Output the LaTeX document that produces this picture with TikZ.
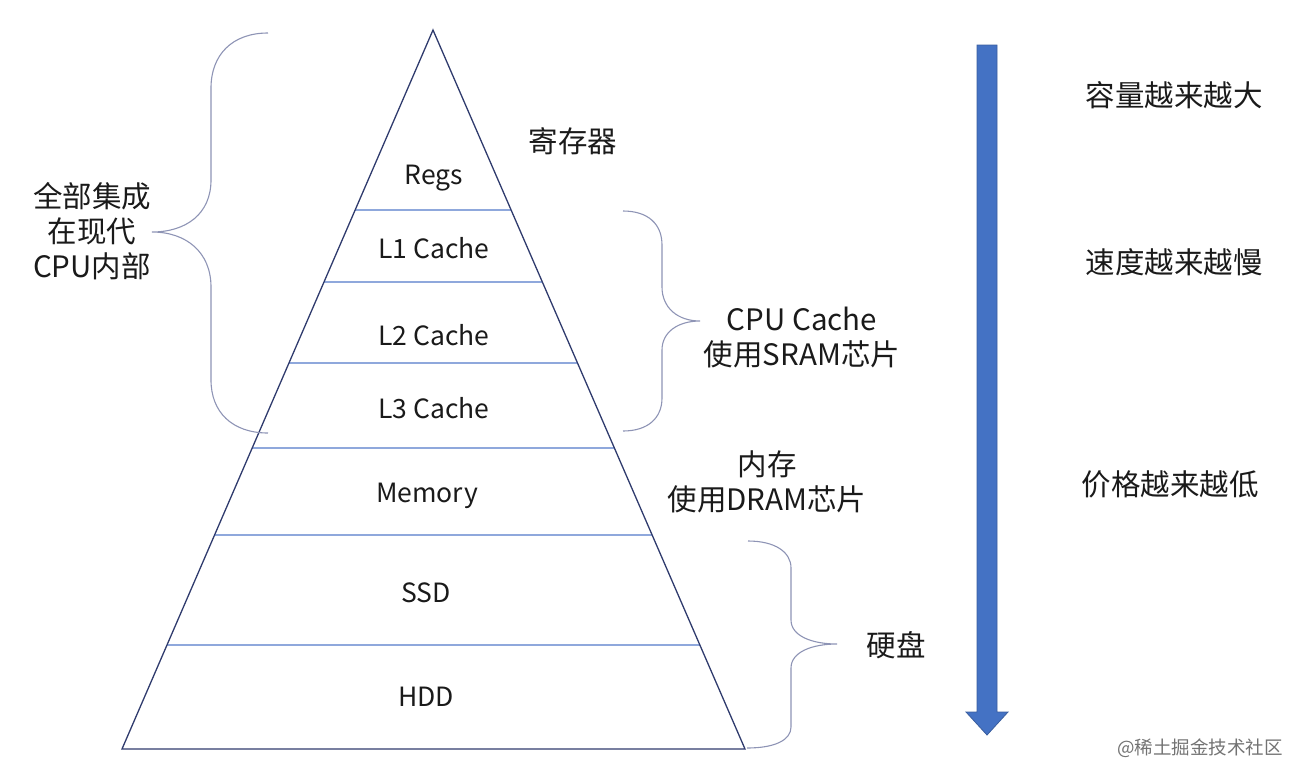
\documentclass[tikz,border=0pt]{standalone}
\usepackage{fontspec}
\setmainfont{Noto Sans CJK SC}
\usetikzlibrary{calc}
\definecolor{edgec}{HTML}{2F3B6D}
\definecolor{layerc}{HTML}{8FA8DC}
\definecolor{bracec}{HTML}{8E94B5}
\definecolor{arrowc}{HTML}{4472C4}
\definecolor{arrowd}{HTML}{3A5E9E}
\definecolor{txt}{HTML}{1A1A1A}
\tikzset{
  layer/.style={font=\fontsize{26.5}{30}\selectfont, text=txt, inner sep=0pt},
  lbl/.style={font=\fontsize{29.5}{35}\selectfont, text=txt, inner sep=0pt, align=center},
  sep/.style={draw=layerc, line width=1.2pt},
  brace/.style={draw=bracec, line width=1.1pt},
  wm/.style={font=\fontsize{18.5}{22}\selectfont, text=black!55, inner sep=0pt}
}
\begin{document}
\begin{tikzpicture}[x=1pt,y=-1pt]
\useasboundingbox (0,0) rectangle (1300,782);
\coordinate (apex) at (433,30);
\coordinate (bl) at (122,749);
\coordinate (br) at (745,749);
% separator lines
\foreach \t in {0.2503,0.3505,0.4631,0.5814,0.7024,0.8554}{
  \draw[sep] ($(apex)!\t!(bl)$) -- ($(apex)!\t!(br)$);
}
% triangle
\draw[draw=edgec, line width=1.3pt, line join=miter] (apex) -- (bl) -- (br) -- cycle;
% layer labels
\node[layer] (regs) at (434,178) {Regs};
\node[layer] (l1) at (434,248) {L1 Cache};
\node[layer] (l2) at (434,335) {L2 Cache};
\node[layer] (l3) at (434,408) {L3 Cache};
\node[layer] (mem) at (427,496) {Memory};
\node[layer] (ssd) at (426,593) {SSD};
\node[layer] (hdd) at (426,697) {HDD};
% side labels
\node[lbl] (reg) at (573,141) {寄存器};
\node[lbl] (cpuc) at (802,338) {CPU Cache\\使用SRAM芯片};
\node[lbl] (dram) at (767,482) {内存\\使用DRAM芯片};
\node[lbl] (disk) at (896,645) {硬盘};
\node[lbl] (integ) at (92,231) {全部集成\\在现代\\CPU内部};
\node[lbl] (cap) at (1174,95) {容量越来越大};
\node[lbl] (spd) at (1174,262) {速度越来越慢};
\node[lbl] (price) at (1170,484) {价格越来越低};
\node[wm] (mark) at (1200,748) {@稀土掘金技术社区};
% braces
\draw[brace] (268,33) .. controls (232,33) and (211,55) .. (211,88) -- (211,180)
  .. controls (211,214) and (186,232) .. (152,232)
  .. controls (186,232) and (211,252) .. (211,287) -- (211,380)
  .. controls (211,412) and (232,433) .. (268,433);
\draw[brace] (623,211) .. controls (648,211) and (662,224) .. (662,245) -- (662,287)
  .. controls (662,308) and (678,321) .. (700,321)
  .. controls (678,321) and (662,332) .. (662,350) -- (662,398)
  .. controls (662,418) and (648,431) .. (623,431);
\draw[brace] (748,541) .. controls (775,541) and (791,552) .. (791,568) -- (791,620)
  .. controls (791,636) and (812,644) .. (837,644)
  .. controls (812,644) and (791,652) .. (791,668) -- (791,727)
  .. controls (791,740) and (775,748) .. (747,748);
% arrow
\draw[draw=arrowd, fill=arrowc, line width=0.8pt, line join=miter]
  (977,45) -- (997,45) -- (997,712) -- (1008,712) -- (987,735) -- (966,712) -- (977,712) -- cycle;
\end{tikzpicture}
\end{document}
